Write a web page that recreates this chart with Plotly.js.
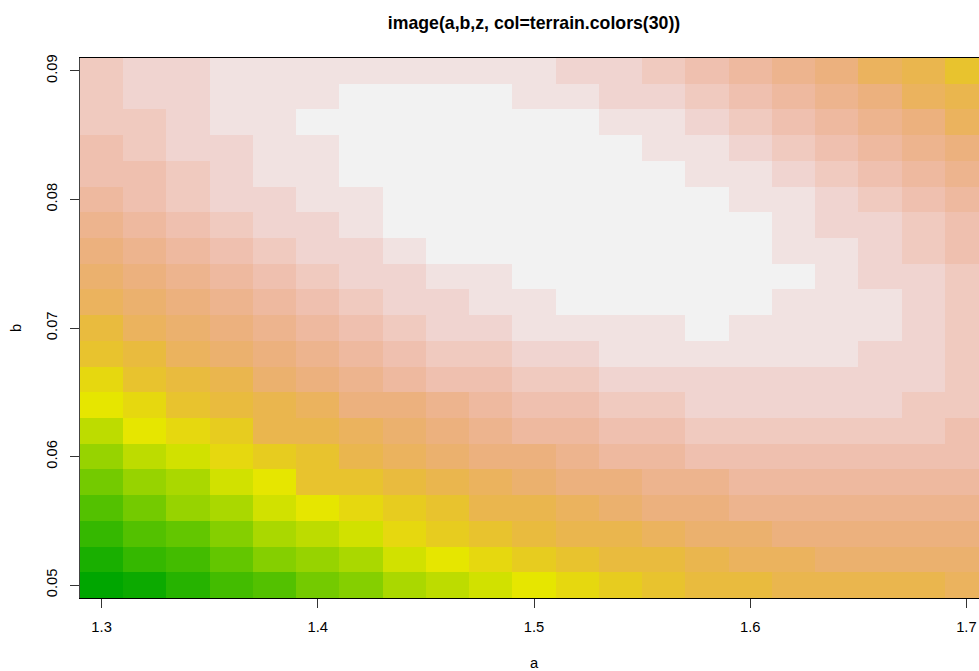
<!DOCTYPE html>
<html>
<head>
<meta charset="utf-8">
<script src="https://cdn.plot.ly/plotly-3.0.1.min.js"></script>
<style>html,body{margin:0;padding:0;background:#fff;overflow:hidden;width:979px;height:671px}#plot{width:1000px;height:671px}</style>
</head>
<body>
<div id="plot"></div>
<script>
const a = [1.30,1.32,1.34,1.36,1.38,1.40,1.42,1.44,1.46,1.48,1.50,1.52,1.54,1.56,1.58,1.60,1.62,1.64,1.66,1.68,1.70];
const b = [0.050,0.052,0.054,0.056,0.058,0.060,0.062,0.064,0.066,0.068,0.070,0.072,0.074,0.076,0.078,0.080,0.082,0.084,0.086,0.088,0.090];
const terrain30 = ["#00A600","#0CAA00","#19AF00","#26B300","#35B800","#43BC00","#53C100","#63C600","#74CA00","#85CF00","#97D300","#AAD800","#BDDC00","#D1E100","#E6E600","#E6D80F","#E7CC1F","#E8C32E","#E9BB3E","#EAB64E","#EBB35E","#EBB16E","#ECB17E","#EDB48E","#EEB99F","#EFC0AF","#F0CABF","#F0D4D0","#F1E2E1","#F2F2F2"];
// z levels, bottom row (b = 0.05) first
const z = [
[0,1,3,5,6,8,9,11,12,13,14,15,16,17,18,18,19,19,19,19,20],
[2,4,5,7,9,10,11,13,14,15,16,17,18,18,19,20,20,21,21,21,21],
[4,6,7,9,11,12,13,15,16,17,18,19,19,20,21,21,22,22,22,22,22],
[6,8,10,11,13,14,15,16,17,19,19,20,21,22,22,23,23,23,23,23,23],
[8,10,11,13,14,17,17,18,19,20,21,22,22,23,23,24,24,24,24,24,24],
[10,12,13,15,16,17,19,20,21,22,22,23,24,24,25,25,25,25,25,25,25],
[12,14,15,16,19,19,20,21,22,23,24,24,25,25,26,26,26,26,26,26,25],
[14,15,17,18,19,20,22,22,23,24,25,25,26,26,27,27,27,27,27,26,26],
[15,17,18,19,21,22,23,24,25,25,26,26,27,27,27,27,27,27,27,27,26],
[17,18,20,21,22,23,24,25,26,26,27,27,28,28,28,28,28,28,27,27,26],
[18,20,21,22,23,24,25,26,27,27,28,28,28,28,29,28,28,28,28,27,26],
[20,21,22,23,24,25,26,27,27,28,28,29,29,29,29,29,28,28,28,27,26],
[21,22,23,24,25,26,27,27,28,28,29,29,29,29,29,29,29,28,27,27,26],
[22,23,24,25,26,27,27,28,29,29,29,29,29,29,29,29,28,28,27,26,25],
[23,24,25,26,27,27,28,29,29,29,29,29,29,29,29,29,28,27,27,26,25],
[24,25,26,27,27,28,28,29,29,29,29,29,29,29,29,28,28,27,26,25,24],
[25,25,26,27,28,28,29,29,29,29,29,29,29,29,28,28,27,26,25,24,23],
[25,26,27,27,28,28,29,29,29,29,29,29,29,28,28,27,26,25,24,23,22],
[26,26,27,28,28,29,29,29,29,29,29,29,28,28,27,26,25,24,23,22,20],
[26,27,27,28,28,28,29,29,29,29,28,28,27,27,26,25,24,23,22,20,19],
[26,27,27,28,28,28,28,28,28,28,28,27,27,26,25,24,23,22,20,19,17]
];
const xTicks = [1.3,1.4,1.5,1.6,1.7];
const xTickText = ["1.3","1.4","1.5","1.6","1.7"];
const yTicks = [0.05,0.06,0.07,0.08,0.09];
const yTickText = ["0.05","0.06","0.07","0.08","0.09"];

const stepped = [];
terrain30.forEach((c,i)=>{stepped.push([i/30,c]);stepped.push([(i+1)/30,c]);});
const font = "'Liberation Sans', Arial, sans-serif";
const axisCommon = {
  showline:true, mirror:true, linecolor:'#000', linewidth:1, showgrid:false, zeroline:false,
  ticks:'outside', ticklen:9, tickwidth:1, tickcolor:'#333',
  tickfont:{family:font,size:14.75,color:'#000'}
};
Plotly.newPlot('plot',[{
  type:'heatmap', x:a, y:b, z:z, colorscale:stepped, zmin:-0.5, zmax:29.5, showscale:false, zsmooth:false, hoverinfo:'skip'
}],{
  width:1000, height:671, autosize:false,
  margin:{l:80,r:12,t:58,b:72.5,pad:0},
  paper_bgcolor:'#fff', plot_bgcolor:'#fff',
  title:{text:'<b>image(a,b,z, col=terrain.colors(30))</b>',x:0.5,xref:'paper',xanchor:'center',y:1-23/671,yref:'container',yanchor:'middle',font:{family:font,size:17.7,color:'#000'}},
  xaxis:Object.assign({},axisCommon,{range:[1.29,1.71],tickmode:'array',tickvals:xTicks,ticktext:xTickText,ticklabelstandoff:6,title:{text:'a',font:{family:font,size:14.75,color:'#000'},standoff:24}}),
  yaxis:Object.assign({},axisCommon,{linecolor:'#444',range:[0.049,0.091],tickmode:'array',tickvals:yTicks,ticktext:yTickText,tickangle:-90,ticklabelstandoff:7,title:{text:'b',font:{family:font,size:14.75,color:'#000'},standoff:18}})
},{displayModeBar:false,staticPlot:true});
</script>
</body>
</html>
